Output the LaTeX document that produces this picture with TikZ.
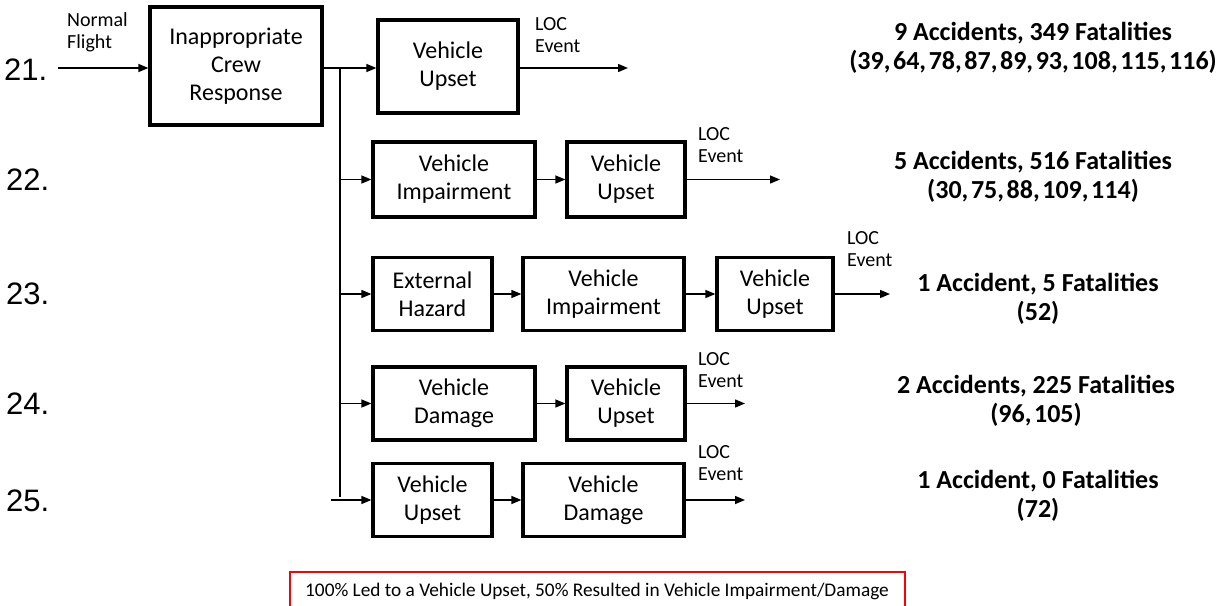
\documentclass[tikz,border=0pt]{standalone}
\usepackage{fontspec}
\setmainfont{Carlito}
\newfontfamily\arialfont{Liberation Sans}
\usetikzlibrary{arrows.meta}
\tikzset{
  x=1pt, y=-1pt,
  blk/.style={draw, line width=3.2pt, align=center, inner sep=0pt,
    font=\fontsize{24}{28}\selectfont},
  conn/.style={line width=1.4pt, -{Triangle[length=10pt,width=8pt]}},
  plain/.style={line width=1.4pt},
  small/.style={align=left, inner sep=0pt, font=\fontsize{20}{22.5}\selectfont},
  num/.style={inner sep=0pt, font=\arialfont\fontsize{31}{34}\selectfont},
  res/.style={align=center, inner sep=0pt, font=\bfseries\fontsize{26}{29}\selectfont},
}
\newcommand{\tightsp}[1]{{\spaceskip=0.1em\relax #1}}
\begin{document}
\begin{tikzpicture}
\useasboundingbox (0,0) rectangle (1231,605);
% row numbers
\node[num, anchor=west] (n21) at (4,70) {21.};
\node[num, anchor=west] (n22) at (6,180) {22.};
\node[num, anchor=west] (n23) at (6,294) {23.};
\node[num, anchor=west] (n24) at (6,404) {24.};
\node[num, anchor=west] (n25) at (6,501) {25.};
% row 1
\coordinate (start) at (58,68);
\node[small, anchor=north west] (nf) at (67,12) {Normal\\Flight};
\node[blk, minimum width=172, minimum height=118] (crew) at (236,66) {Inappropriate\\Crew\\Response};
\node[blk, minimum width=140, minimum height=93] (up1) at (448,66.5) {Vehicle\\Upset};
\coordinate (j1) at (340,68);
\coordinate (e1) at (628,68);
\draw[conn] (start) -- (crew.west |- start);
\draw[conn] (crew.east |- j1) -- (up1.west |- j1);
\draw[conn] (up1.east |- e1) -- (e1);
\node[small, anchor=north west] (loc1) at (535,17) {LOC\\Event};
% row 2
\node[blk, minimum width=162, minimum height=75] (imp2) at (454,179.5) {Vehicle\\Impairment};
\node[blk, minimum width=118, minimum height=75] (up2) at (626,179.5) {Vehicle\\Upset};
\coordinate (j2) at (340,179.5);
\coordinate (e2) at (780,179.5);
\draw[conn] (j2) -- (imp2.west);
\draw[conn] (imp2) -- (up2);
\draw[conn] (up2.east) -- (e2);
\node[small, anchor=north west] (loc2) at (698,127) {LOC\\Event};
% row 3
\node[blk, minimum width=119, minimum height=73] (ext3) at (432.5,294) {External\\Hazard};
\node[blk, minimum width=161, minimum height=73] (imp3) at (603.5,294) {Vehicle\\Impairment};
\node[blk, minimum width=116, minimum height=73] (up3) at (775,294) {Vehicle\\Upset};
\coordinate (j3) at (340,294);
\coordinate (e3) at (890,294);
\draw[conn] (j3) -- (ext3.west);
\draw[conn] (ext3) -- (imp3);
\draw[conn] (imp3) -- (up3);
\draw[conn] (up3.east) -- (e3);
\node[small, anchor=north west] (loc3) at (847,231) {LOC\\Event};
% row 4
\node[blk, minimum width=162, minimum height=73] (dam4) at (454,403.5) {Vehicle\\Damage};
\node[blk, minimum width=118, minimum height=73] (up4) at (626,403.5) {Vehicle\\Upset};
\coordinate (j4) at (340,403.5);
\coordinate (e4) at (745,403.5);
\draw[conn] (j4) -- (dam4.west);
\draw[conn] (dam4) -- (up4);
\draw[conn] (up4.east) -- (e4);
\node[small, anchor=north west] (loc4) at (698,352) {LOC\\Event};
% row 5
\node[blk, minimum width=119, minimum height=73] (up5) at (432.5,500) {Vehicle\\Upset};
\node[blk, minimum width=161, minimum height=73] (dam5) at (603.5,500) {Vehicle\\Damage};
\coordinate (j5) at (331,500);
\coordinate (t5) at (340,497);
\coordinate (e5) at (745,500);
\draw[conn] (j5) -- (up5.west);
\draw[conn] (up5) -- (dam5);
\draw[conn] (dam5.east) -- (e5);
\node[small, anchor=north west] (loc5) at (698,445) {LOC\\Event};
% trunk
\draw[plain] (j1) -- (t5);
% results
\node[res] (r1) at (1033,48) {9 Accidents, 349 Fatalities\\\tightsp{(39, 64, 78, 87, 89, 93, 108, 115, 116)}};
\node[res] (r2) at (1033,177) {5 Accidents, 516 Fatalities\\\tightsp{(30, 75, 88, 109, 114)}};
\node[res] (r3) at (1038,299) {1 Accident, 5 Fatalities\\(52)};
\node[res] (r4) at (1036,401) {2 Accidents, 225 Fatalities\\\tightsp{(96, 105)}};
\node[res] (r5) at (1038,496) {1 Accident, 0 Fatalities\\(72)};
% footnote
\draw[red, line width=1.2pt] (290,620) -- (290,572) -- (905,572) -- (905,620);
\node[anchor=west, inner sep=0pt, font=\fontsize{19.3}{22}\selectfont] (foot) at (305,591) {100\% Led to a Vehicle Upset, 50\% Resulted in Vehicle Impairment/Damage};
\end{tikzpicture}
\end{document}
